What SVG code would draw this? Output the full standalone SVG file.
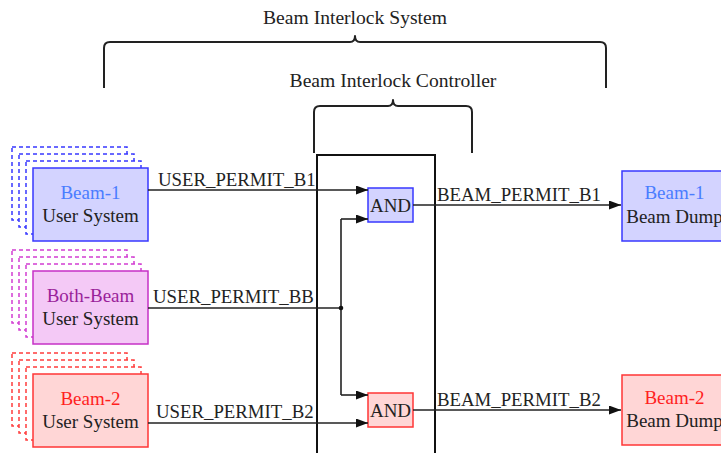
<svg xmlns="http://www.w3.org/2000/svg" width="721" height="453" viewBox="0 0 721 453">
  <style>
    text { font-family: "Liberation Serif", "Times New Roman", serif; fill: #222; }
    .t { font-size: 19px; text-anchor: middle; }
    .sig { font-size: 18.8px; }
    .hdr { font-size: 19.6px; text-anchor: middle; }
    .wire { fill: none; stroke: #222; stroke-width: 1.6; }
    .brace { fill: none; stroke: #222; stroke-width: 2; stroke-linejoin: round; }
    .b1 { fill: #d3d3ff; stroke: #3838ff; stroke-width: 1.5; }
    .bb { fill: #f4c9f6; stroke: #c630c6; stroke-width: 1.5; }
    .b2 { fill: #ffd6d6; stroke: #ff3636; stroke-width: 1.5; }
    .d1 { fill: #fff; stroke: #3838ff; stroke-width: 1.5; stroke-dasharray: 4 3; }
    .dbb { fill: #fff; stroke: #d23ed2; stroke-width: 1.5; stroke-dasharray: 4 3; }
    .d2 { fill: #fff; stroke: #ff3c3c; stroke-width: 1.5; stroke-dasharray: 4 3; }
    .c1 { fill: #4a7dff; }
    .cbb { fill: #9a1f9a; }
    .c2 { fill: #ff1f1f; }
  </style>
  <defs>
    <marker id="arrow" markerUnits="userSpaceOnUse" markerWidth="13" markerHeight="10" refX="12" refY="4.5" orient="auto">
      <path d="M0,0 L12,4.5 L0,9 Z" fill="#111"/>
    </marker>
  </defs>
  <rect width="721" height="453" fill="#fff"/>

  <!-- braces and headings -->
  <g id="system-brace">
    <text class="hdr" x="355" y="24">Beam Interlock System</text>
    <path class="brace" d="M104,88 V48 Q104,42 110,42 H350 Q355,42 355,36 Q355,42 360,42 H600 Q606,42 606,48 V88"/>
  </g>
  <g id="controller-brace">
    <text class="hdr" x="393" y="87">Beam Interlock Controller</text>
    <path class="brace" d="M314,153 V112 Q314,106 320,106 H388 Q393,106 393,100 Q393,106 398,106 H466 Q472,106 472,112 V153"/>
  </g>

  <!-- controller frame -->
  <g id="controller">
    <rect x="317" y="155" width="118" height="310" fill="none" stroke="#111" stroke-width="2"/>
  </g>

  <!-- user systems -->
  <g id="user-b1">
    <rect class="d1" x="12" y="147" width="115" height="73"/>
    <rect class="d1" x="19" y="154" width="115" height="73"/>
    <rect class="d1" x="26" y="161" width="115" height="73"/>
    <rect class="b1" x="33" y="168" width="115" height="73"/>
    <text class="t c1" x="90.5" y="199">Beam-1</text>
    <text class="t" x="90.5" y="222">User System</text>
  </g>
  <g id="user-bb">
    <rect class="dbb" x="12" y="250" width="115" height="73"/>
    <rect class="dbb" x="19" y="257" width="115" height="73"/>
    <rect class="dbb" x="26" y="264" width="115" height="73"/>
    <rect class="bb" x="33" y="271" width="115" height="73"/>
    <text class="t cbb" x="90.5" y="302">Both-Beam</text>
    <text class="t" x="90.5" y="325">User System</text>
  </g>
  <g id="user-b2">
    <rect class="d2" x="12" y="353" width="115" height="73"/>
    <rect class="d2" x="19" y="360" width="115" height="73"/>
    <rect class="d2" x="26" y="367" width="115" height="73"/>
    <rect class="b2" x="33" y="374" width="115" height="73"/>
    <text class="t c2" x="90.5" y="405">Beam-2</text>
    <text class="t" x="90.5" y="428">User System</text>
  </g>

  <!-- AND gates -->
  <g id="and-b1">
    <rect class="b1" x="368" y="188" width="45" height="34"/>
    <text class="t" x="390.5" y="212">AND</text>
  </g>
  <g id="and-b2">
    <rect class="b2" x="368" y="393" width="45" height="34"/>
    <text class="t" x="390.5" y="417">AND</text>
  </g>

  <!-- beam dumps (right edge runs past the canvas) -->
  <g id="dump-b1">
    <rect class="b1" x="622" y="171" width="105" height="70"/>
    <text class="t c1" x="674.5" y="199">Beam-1</text>
    <text class="t" x="674.5" y="223">Beam Dump</text>
  </g>
  <g id="dump-b2">
    <rect class="b2" x="622" y="375" width="105" height="70"/>
    <text class="t c2" x="674.5" y="404">Beam-2</text>
    <text class="t" x="674.5" y="427">Beam Dump</text>
  </g>

  <!-- signal connectors -->
  <g id="connectors">
    <path class="wire" d="M148,190 H368" marker-end="url(#arrow)"/>
    <path class="wire" d="M148,308 H341"/>
    <path class="wire" d="M341,219 V395"/>
    <path class="wire" d="M341,219 H368" marker-end="url(#arrow)"/>
    <path class="wire" d="M341,395 H368" marker-end="url(#arrow)"/>
    <circle cx="341" cy="308" r="2.3" fill="#111"/>
    <path class="wire" d="M148,423 H368" marker-end="url(#arrow)"/>
    <path class="wire" d="M413,205 H621" marker-end="url(#arrow)"/>
    <path class="wire" d="M413,410 H621" marker-end="url(#arrow)"/>
    <text class="sig" x="158" y="186">USER_PERMIT_B1</text>
    <text class="sig" x="153" y="303">USER_PERMIT_BB</text>
    <text class="sig" x="156" y="418">USER_PERMIT_B2</text>
    <text class="sig" x="437" y="201">BEAM_PERMIT_B1</text>
    <text class="sig" x="437" y="406">BEAM_PERMIT_B2</text>
  </g>
</svg>
